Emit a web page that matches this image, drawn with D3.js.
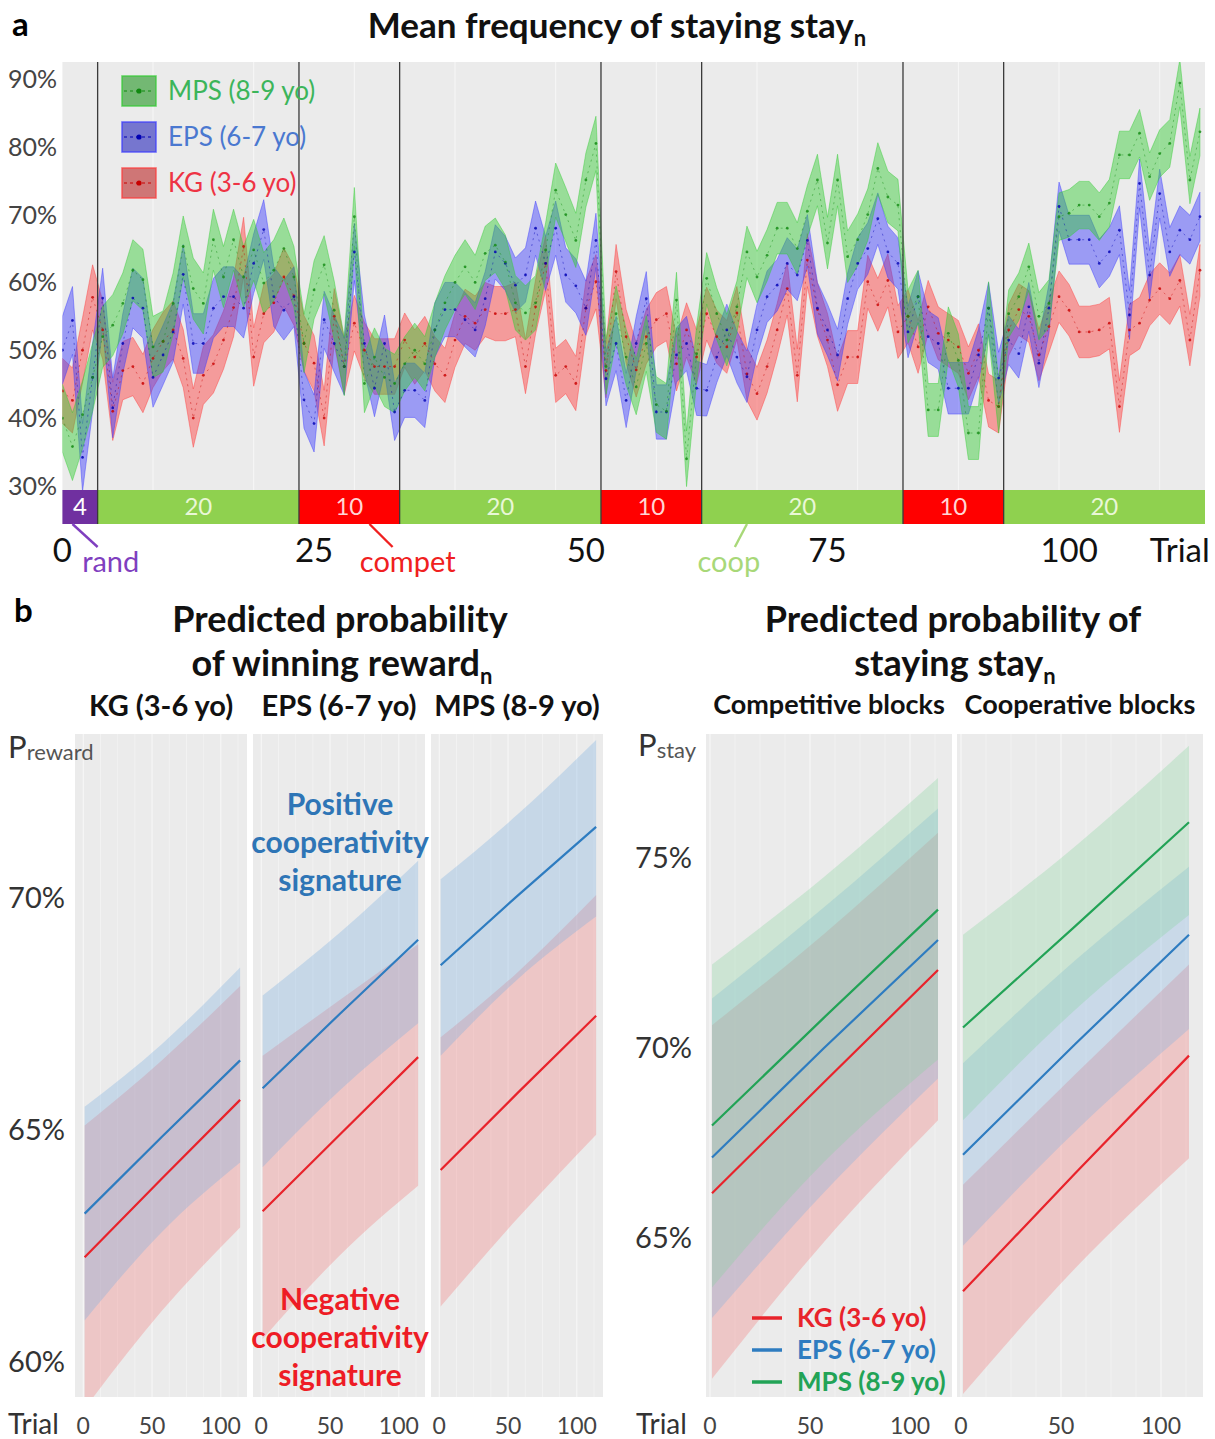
<!DOCTYPE html>
<html><head><meta charset="utf-8">
<script src="https://cdn.jsdelivr.net/npm/d3@7"></script>
<style>
body{margin:0;background:#fff}
svg{display:block}
text{font-family:Lato,'Open Sans',sans-serif}
</style>
</head><body>
<svg id="c" width="1215" height="1439"></svg>
<script>
// ===================== DATA =====================
// Panel a: mean frequency of staying per trial (1..114), in %
const trialsA = d3.range(1, 115);
const meanKG = [44,42.6,50,57.8,53,41,47,47.6,45.1,48.8,51.3,53,48.8,40,46.3,48,51.5,56.3,65.3,49,55.4,57,60.8,58,
  51,48.1,40,55,47.6,54,50,47.6,47.6,47.6,
  51.5,49,51,48,46.3,51.5,55,54,56,55.4,55.4,56,47.6,56.4,62.8,46.3,47.6,45.1,56.2,60.1,
  47,61.6,52,47.1,52,54.5,55.4,48,53,49,
  55.4,52,50.5,55.5,46.5,43.6,47.6,53,59.1,46.3,63.3,56,51.5,44.9,49,49,60.1,56.7,60.3,52.7,
  55,50.5,56.4,52.5,51.5,50.5,46.6,50,42.6,41.7,
  53,56,55,49.3,53.5,57.9,55.9,52.7,52.7,53,54,41.7,53,54,57.4,59.1,57.6,60.3,51.5,61.8];
const meanEPS = [50,54.4,34.2,46,57.7,41.5,51,57.7,56.2,46,49.3,52.7,61.2,51,51,56.2,57.9,57.9,56.2,62.8,67.8,57.9,55.9,57.9,
  42.7,39.2,54.5,51,47.6,64.5,51,44.4,51,40.9,
  44.1,44.1,42.6,53,56,56,54.5,53,57.6,64.5,62.8,59.6,61.1,68,62.8,68,61.1,59.5,56.2,66.2,
  45.8,51,42.6,51,57.6,40.9,40.9,49.3,51,44.4,
  44.1,49,53,49,46.1,53,57.9,59.6,62.8,61.1,66.2,56.2,53,49.3,57.6,62.8,65,69.4,64.5,62.8,
  52.7,57.9,52,51,44.4,44.4,44.4,49.3,56.2,45.9,
  51.5,49.5,56.4,48.1,56.2,71.2,66.3,66.3,66.3,62.8,64.5,67.7,55.2,74.6,61.1,73.1,64.5,67.7,66.3,69.7];
const meanMPS = [40,35.8,40.5,46,52,53.7,56.9,61.8,60.4,50.5,51.3,56.9,65.3,59.1,56.9,66.3,60.8,66.3,60.8,64.8,59.9,61.8,65,60.8,
  51,58.9,62.6,55.9,47.6,69.7,45.1,49,46,45.1,
  48,50,48,53,57,60,62.3,60,64.3,65.5,63,57,55.5,57,64.8,73.6,70,66.2,75.1,80.5,
  47.6,55.4,49,44.6,51,42,41,57.4,34,49.5,
  60.6,55.4,51.5,56.4,64.5,60.8,64,68,68,65,70.5,75.1,65.8,75.1,63.8,66.3,70,76.8,72.6,71.4,
  55,57.9,41.2,41.2,52.5,48.5,37.8,37.8,56.2,41.7,
  55.4,57.9,62.3,55,56.9,69.7,70.2,71.4,71.4,69.7,71.7,78.8,78.8,82,75.6,79,80.5,89.4,75.1,82.2];
// half-width of the shaded band, one value per block
const hwKG  = [4.8,4.3,4.1,4.0,4.0,3.9,3.9,3.8];
const hwEPS = [5.0,4.4,4.2,4.0,4.0,3.8,3.8,3.6];
const hwMPS = [5.0,4.5,4.3,4.0,4.1,3.8,3.9,3.5];
const blockTypes   = ['rand','coop','compet','coop','compet','coop','compet','coop'];
const blockLengths = [4,20,10,20,10,20,10,20];
const yTicksA = [30,40,50,60,70,80,90];
const xTickTrialsA = [1,26,53,77,101];
const xTickLabelsA = ['0','25','50','75','100'];
const groupNames = ['KG (3-6 yo)','EPS (6-7 yo)','MPS (8-9 yo)'];

// Panel b-left: predicted probability of winning (%) at trials predTrials
const predTrials = [1, 57, 114];
// index 0 = KG, 1 = EPS, 2 = MPS
const rewardCoopMean   = [[63.2,64.85,66.5],[65.9,67.5,69.1],[68.55,70.05,71.53]];
const rewardCoopLow    = [[60.9,62.8,64.3],[64.2,65.85,67.3],[66.6,68.25,69.6]];
const rewardCoopHigh   = [[65.5,66.85,68.5],[67.9,69.25,70.8],[70.4,71.8,73.4]];
const rewardCompetMean = [[62.26,63.95,65.65],[63.25,64.9,66.57],[64.14,65.8,67.46]];
const rewardCompetLow  = [[59.0,61.1,62.9],[60.5,62.3,63.8],[61.2,63.1,64.9]];
const rewardCompetHigh = [[65.1,66.5,68.1],[66.6,67.8,69.0],[67.0,68.4,70.06]];
const rewardYTicks = [60,65,70];
// Panel b-right: predicted probability of staying (%) ; index 0 = KG, 1 = EPS, 2 = MPS
const stayCompetMean = [[66.18,69.1,72.05],[67.12,70.0,72.84],[67.96,70.8,73.64]];
const stayCompetLow  = [[61.3,64.9,68.1],[62.9,66.2,69.2],[63.7,67.0,69.7]];
const stayCompetHigh = [[70.6,73.0,75.66],[71.3,73.7,76.3],[72.2,74.5,77.1]];
const stayCoopMean   = [[63.6,66.7,69.8],[67.19,70.1,72.98],[70.54,73.2,75.94]];
const stayCoopLow    = [[60.9,64.2,67.1],[64.8,67.8,70.5],[68.1,71.0,73.5]];
const stayCoopHigh   = [[66.4,69.3,72.2],[69.6,72.3,74.77],[72.98,75.3,77.95]];
const stayYTicks = [65,70,75];
const predXTicks = [0,50,100];

// ===================== DRAWING =====================
const svg = d3.select('#c');
const defs = svg.append('defs');
const BG = '#ebebeb';

// ---------- Panel a ----------
const xA = d3.scaleLinear().domain([1, 114.5]).range([62.4, 1205]);
const yA = d3.scaleLinear().domain([29.4, 92.5]).range([490, 62]);
const barTop = 490, barBot = 524;

svg.append('text').attr('x', 12).attr('y', 36).attr('font-size', 33).attr('font-weight', 700).text('a');
const tA = svg.append('text').attr('x', 617).attr('y', 38).attr('text-anchor', 'middle')
  .attr('font-size', 35).attr('font-weight', 700).attr('fill', '#111');
tA.append('tspan').text('Mean frequency of staying stay');
tA.append('tspan').attr('font-size', 22).attr('dy', 8).text('n');

svg.append('rect').attr('x', xA.range()[0]).attr('y', yA.range()[1])
  .attr('width', xA.range()[1] - xA.range()[0]).attr('height', yA.range()[0] - yA.range()[1]).attr('fill', BG);

defs.append('clipPath').attr('id', 'clipA').append('rect')
  .attr('x', xA.range()[0]).attr('y', yA.range()[1])
  .attr('width', xA.range()[1] - xA.range()[0]).attr('height', yA.range()[0] - yA.range()[1]);

// grid
const gA = svg.append('g').attr('clip-path', 'url(#clipA)');
gA.selectAll('.vg').data(d3.range(10, 115, 10)).join('line')
  .attr('x1', d => xA(d)).attr('x2', d => xA(d)).attr('y1', yA.range()[1]).attr('y2', yA.range()[0])
  .attr('stroke', '#fff').attr('stroke-width', 1).attr('opacity', 0.6);

// block index per trial
const blockEnds = d3.cumsum(blockLengths);
const blockOf = t => blockEnds.findIndex(e => t <= e);

const seriesA = [
  {mean: meanKG,  hw: hwKG,  fill: '#ff3a3a', dot: '#c80000'},
  {mean: meanEPS, hw: hwEPS, fill: '#3a3aff', dot: '#0000b4'},
  {mean: meanMPS, hw: hwMPS, fill: '#33cc33', dot: '#118a11'}
];
const areaA = d3.area().x(d => xA(d.t)).y0(d => yA(d.lo)).y1(d => yA(d.hi));
const lineA = d3.line().x(d => xA(d.t)).y(d => yA(d.m));
seriesA.forEach(s => {
  const pts = trialsA.map((t, i) => {
    const h = s.hw[blockOf(t)];
    return {t, m: s.mean[i], lo: s.mean[i] - h, hi: s.mean[i] + h};
  });
  gA.append('path').datum(pts).attr('d', areaA).attr('fill', s.fill).attr('fill-opacity', 0.45)
    .attr('stroke', s.fill).attr('stroke-opacity', 0.55).attr('stroke-width', 0.8);
  s.pts = pts;
});
seriesA.forEach(s => {
  gA.append('path').datum(s.pts).attr('d', lineA).attr('fill', 'none').attr('stroke', s.dot)
    .attr('stroke-width', 0.8).attr('stroke-dasharray', '2,4').attr('opacity', 0.55);
  gA.selectAll(null).data(s.pts).join('circle').attr('cx', d => xA(d.t)).attr('cy', d => yA(d.m))
    .attr('r', 1.4).attr('fill', s.dot).attr('opacity', 0.8);
});

// block bar
const blockColor = {rand: '#7030a0', coop: '#8fd14f', compet: '#ff0000'};
const blockText = {rand: '#ffffff', coop: '#e9f7d6', compet: '#ffd6d6'};
const blocks = blockLengths.map((n, i) => ({type: blockTypes[i], n, s: blockEnds[i] - n + 0.5, e: blockEnds[i] + 0.5}));
const bx0 = d => Math.max(xA(d.s), xA.range()[0]);
const bx1 = d => Math.min(xA(d.e), xA.range()[1]);
svg.selectAll('.blk').data(blocks).join('rect')
  .attr('x', bx0).attr('width', d => bx1(d) - bx0(d)).attr('y', barTop).attr('height', barBot - barTop)
  .attr('fill', d => blockColor[d.type]);
svg.selectAll('.blkt').data(blocks).join('text')
  .attr('x', d => (bx0(d) + bx1(d)) / 2).attr('y', (barTop + barBot) / 2 + 8).attr('text-anchor', 'middle')
  .attr('font-size', 24).attr('fill', d => blockText[d.type]).text(d => d.n);
// boundary lines
svg.selectAll('.bnd').data(blocks.slice(1)).join('line')
  .attr('x1', d => xA(d.s)).attr('x2', d => xA(d.s)).attr('y1', yA.range()[1]).attr('y2', barBot)
  .attr('stroke', '#3a3a3a').attr('stroke-width', 1.3);

// y axis labels
svg.selectAll('.yta').data(yTicksA).join('text')
  .attr('x', 57).attr('y', d => yA(d) + 9).attr('text-anchor', 'end')
  .attr('font-size', 25).attr('fill', '#444').text(d => d + '%');
// x labels
svg.selectAll('.xta').data(xTickTrialsA).join('text')
  .attr('x', d => xA(d)).attr('y', 562).attr('text-anchor', 'middle')
  .attr('font-size', 33).attr('fill', '#111').text((d, i) => xTickLabelsA[i]);
svg.append('text').attr('x', xA(112)).attr('y', 562).attr('text-anchor', 'middle')
  .attr('font-size', 33).attr('fill', '#111').text('Trial');

// block-type annotations
const annA = [
  {lab: 'rand', col: '#7f3fbf', t0: 2.0, t1: 4.5, tx: 5.8},
  {lab: 'compet', col: '#f02020', t0: 31.5, t1: 33.8, tx: 35.3},
  {lab: 'coop', col: '#a8d878', t0: 69.0, t1: 67.8, tx: 67.2}
];
annA.forEach(a => {
  svg.append('line').attr('x1', xA(a.t0)).attr('y1', barBot).attr('x2', xA(a.t1)).attr('y2', barBot + 23)
    .attr('stroke', a.col).attr('stroke-width', 2.4);
  svg.append('text').attr('x', xA(a.tx)).attr('y', 572).attr('text-anchor', 'middle')
    .attr('font-size', 29).attr('fill', a.col).text(a.lab);
});

// legend panel a
const legA = [
  {lab: groupNames[2], s: seriesA[2], col: '#3cb55a'},
  {lab: groupNames[1], s: seriesA[1], col: '#4a78d0'},
  {lab: groupNames[0], s: seriesA[0], col: '#ee3344'}
];
legA.forEach((l, i) => {
  const y = 76 + i * 46;
  const g = svg.append('g');
  g.append('rect').attr('x', 122).attr('y', y).attr('width', 34).attr('height', 30).attr('fill', '#a8a8a8');
  g.append('rect').attr('x', 122).attr('y', y).attr('width', 34).attr('height', 30)
    .attr('fill', l.s.fill).attr('fill-opacity', 0.45).attr('stroke', l.s.fill).attr('stroke-opacity', 0.7).attr('stroke-width', 1.6);
  g.append('line').attr('x1', 124).attr('x2', 154).attr('y1', y + 15).attr('y2', y + 15)
    .attr('stroke', l.s.dot).attr('stroke-dasharray', '3,3').attr('stroke-width', 1);
  g.append('circle').attr('cx', 139).attr('cy', y + 15).attr('r', 2.6).attr('fill', l.s.dot);
  g.append('text').attr('x', 168).attr('y', y + 24).attr('font-size', 26).attr('fill', l.col).text(l.lab);
});

// ---------- Panel b ----------
function facet(opts) {
  const {x0, x1, y0, y1, xDom, yDom, bands, lines} = opts;
  const x = d3.scaleLinear().domain(xDom).range([x0, x1]);
  const y = d3.scaleLinear().domain(yDom).range([y1, y0]);
  const id = 'cl' + Math.round(x0);
  defs.append('clipPath').attr('id', id).append('rect').attr('x', x0).attr('y', y0).attr('width', x1 - x0).attr('height', y1 - y0);
  svg.append('rect').attr('x', x0).attr('y', y0).attr('width', x1 - x0).attr('height', y1 - y0).attr('fill', BG);
  const g = svg.append('g').attr('clip-path', `url(#${id})`);
  g.selectAll('.mg').data(d3.range(-12.5, 125, 12.5)).join('line')
    .attr('x1', d => x(d)).attr('x2', d => x(d)).attr('y1', y0).attr('y2', y1)
    .attr('stroke', '#fff').attr('stroke-width', 1).attr('opacity', d => (d % 50 === 0 ? 0.7 : 0.35));
  const area = d3.area().curve(d3.curveMonotoneX).x(d => x(d.t)).y0(d => y(d.lo)).y1(d => y(d.hi));
  bands.forEach(b => {
    const pts = predTrials.map((t, i) => ({t, lo: b.lo[i], hi: b.hi[i]}));
    g.append('path').datum(pts).attr('d', area).attr('fill', b.fill).attr('fill-opacity', b.op);
  });
  const ln = d3.line().x(d => x(d.t)).y(d => y(d.m));
  lines.forEach(l => {
    const pts = predTrials.map((t, i) => ({t, m: l.m[i]}));
    g.append('path').datum(pts).attr('d', ln).attr('fill', 'none').attr('stroke', l.col).attr('stroke-width', 2.2);
  });
  svg.selectAll(null).data(predXTicks).join('text')
    .attr('x', d => x(d)).attr('y', 1434).attr('text-anchor', 'middle')
    .attr('font-size', 23).attr('fill', '#444').text(d => d);
  return {x, y};
}

const RED = '#e8232b', BLUE = '#2e7cc0', GREEN = '#22a356';
const RFILL = '#f27d7d', BFILL = '#79aee0', GFILL = '#86d39b';
const bY0 = 734, bY1 = 1397;

// left: reward
svg.append('text').attr('x', 14).attr('y', 622).attr('font-size', 33).attr('font-weight', 700).text('b');
svg.append('text').attr('x', 340).attr('y', 632).attr('text-anchor', 'middle').attr('font-size', 36)
  .attr('font-weight', 700).attr('fill', '#111').text('Predicted probability');
const tL = svg.append('text').attr('x', 342).attr('y', 676).attr('text-anchor', 'middle').attr('font-size', 36)
  .attr('font-weight', 700).attr('fill', '#111');
tL.append('tspan').text('of winning reward');
tL.append('tspan').attr('font-size', 22).attr('dy', 8).text('n');

const leftFacets = [[75, 247], [253, 425], [431, 603]];
const yDomL = [59.25, 73.53];
let yL;
leftFacets.forEach((f, k) => {
  const r = facet({
    x0: f[0], x1: f[1], y0: bY0, y1: bY1, xDom: [-6, 119], yDom: yDomL,
    bands: [
      {lo: rewardCompetLow[k], hi: rewardCompetHigh[k], fill: RFILL, op: 0.33},
      {lo: rewardCoopLow[k], hi: rewardCoopHigh[k], fill: BFILL, op: 0.32}
    ],
    lines: [{m: rewardCoopMean[k], col: BLUE}, {m: rewardCompetMean[k], col: RED}]
  });
  yL = r.y;
  svg.append('text').attr('x', (f[0] + f[1]) / 2).attr('y', 716).attr('text-anchor', 'middle')
    .attr('font-size', 29).attr('font-weight', 700).attr('fill', '#111').text(groupNames[k]);
});
svg.selectAll('.ytl').data(rewardYTicks).join('text')
  .attr('x', 65).attr('y', d => yL(d) + 10).attr('text-anchor', 'end')
  .attr('font-size', 29).attr('fill', '#333').text(d => d + '%');
const pL = svg.append('text').attr('x', 8).attr('y', 758).attr('fill', '#333');
pL.append('tspan').attr('font-size', 31).text('P');
pL.append('tspan').attr('font-size', 22).attr('dy', 2).attr('fill', '#555').text('reward');
svg.append('text').attr('x', 8).attr('y', 1434).attr('font-size', 28).attr('fill', '#333').text('Trial');

// annotations
[['Positive', 815], ['cooperativity', 853], ['signature', 891]].forEach(d =>
  svg.append('text').attr('x', 340).attr('y', d[1]).attr('text-anchor', 'middle').attr('font-size', 30)
    .attr('font-weight', 700).attr('fill', '#2e75b6').text(d[0]));
[['Negative', 1310], ['cooperativity', 1348], ['signature', 1386]].forEach(d =>
  svg.append('text').attr('x', 340).attr('y', d[1]).attr('text-anchor', 'middle').attr('font-size', 30)
    .attr('font-weight', 700).attr('fill', '#ee1c25').text(d[0]));

// right: stay
svg.append('text').attr('x', 953).attr('y', 632).attr('text-anchor', 'middle').attr('font-size', 36)
  .attr('font-weight', 700).attr('fill', '#111').text('Predicted probability of');
const tR = svg.append('text').attr('x', 955).attr('y', 676).attr('text-anchor', 'middle').attr('font-size', 36)
  .attr('font-weight', 700).attr('fill', '#111');
tR.append('tspan').text('staying stay');
tR.append('tspan').attr('font-size', 22).attr('dy', 8).text('n');

const rightFacets = [[706, 952], [957, 1203]];
const facetNamesR = ['Competitive blocks', 'Cooperative blocks'];
const stayM = [stayCompetMean, stayCoopMean], stayLo = [stayCompetLow, stayCoopLow], stayHi = [stayCompetHigh, stayCoopHigh];
const yDomR = [60.82, 78.26];
let yR;
rightFacets.forEach((f, k) => {
  const r = facet({
    x0: f[0], x1: f[1], y0: bY0, y1: bY1, xDom: [-2, 121], yDom: yDomR,
    bands: [
      {lo: stayLo[k][0], hi: stayHi[k][0], fill: RFILL, op: 0.33},
      {lo: stayLo[k][1], hi: stayHi[k][1], fill: BFILL, op: 0.3},
      {lo: stayLo[k][2], hi: stayHi[k][2], fill: GFILL, op: 0.3}
    ],
    lines: [{m: stayM[k][2], col: GREEN}, {m: stayM[k][1], col: BLUE}, {m: stayM[k][0], col: RED}]
  });
  yR = r.y;
  svg.append('text').attr('x', (f[0] + f[1]) / 2).attr('y', 714).attr('text-anchor', 'middle')
    .attr('font-size', 27).attr('font-weight', 700).attr('fill', '#111').text(facetNamesR[k]);
});
svg.selectAll('.ytr').data(stayYTicks).join('text')
  .attr('x', 692).attr('y', d => yR(d) + 10).attr('text-anchor', 'end')
  .attr('font-size', 29).attr('fill', '#333').text(d => d + '%');
const pR = svg.append('text').attr('x', 638).attr('y', 756).attr('fill', '#333');
pR.append('tspan').attr('font-size', 31).text('P');
pR.append('tspan').attr('font-size', 22).attr('dy', 2).attr('fill', '#555').text('stay');
svg.append('text').attr('x', 636).attr('y', 1434).attr('font-size', 28).attr('fill', '#333').text('Trial');

// legend right
const legR = [[groupNames[0], RED], [groupNames[1], BLUE], [groupNames[2], GREEN]];
legR.forEach((l, i) => {
  const y = 1318 + i * 32;
  svg.append('line').attr('x1', 752).attr('x2', 782).attr('y1', y).attr('y2', y).attr('stroke', l[1]).attr('stroke-width', 3.5);
  svg.append('text').attr('x', 797).attr('y', y + 9).attr('font-size', 26).attr('font-weight', 700).attr('fill', l[1]).text(l[0]);
});
</script>
</body></html>
